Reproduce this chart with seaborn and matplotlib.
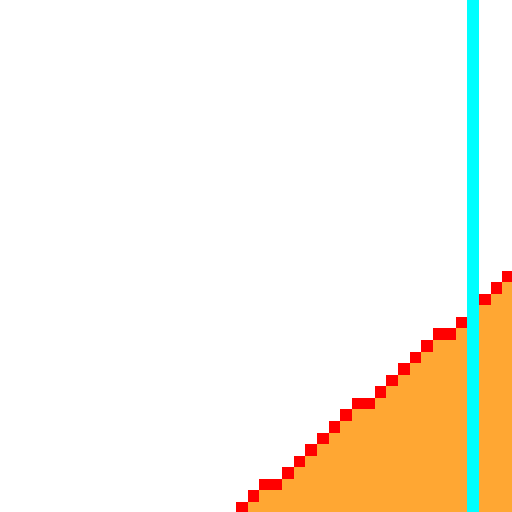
import numpy as np
import pandas as pd
import matplotlib
matplotlib.use('Agg')
import matplotlib.pyplot as plt
from matplotlib.colors import ListedColormap
import seaborn as sns

# Pixel grid data (column index -> row of the red edge pixel, counted from bottom)
line_cols = list(range(0, 24))
line_rows = [0, 1, 2, 2, 3, 4, 5, 6, 7, 8, 9, 9, 10, 11, 12, 13, 14, 15, 15, 16, 17, 18, 19, 20]
marker_col = 20

col_ids = list(range(-21, 24))
row_ids = list(range(44, -1, -1))  # top row first

# Build the cell table: 0 white, 1 fill, 2 edge, 3 marker
edge = dict(zip(line_cols, line_rows))
grid = pd.DataFrame(0, index=row_ids, columns=col_ids)
for c in col_ids:
    if c in edge:
        for r in row_ids:
            if r < edge[c]:
                grid.loc[r, c] = 1
            elif r == edge[c]:
                grid.loc[r, c] = 2
grid[marker_col] = 3

cmap = ListedColormap(['#ffffff', '#ffa733', '#ff0000', '#00ffff'])

sns.set_style('white')
fig = plt.figure(figsize=(5.12, 5.12), dpi=100)
ax = fig.add_axes([0, 0, 1, 1])
sns.heatmap(grid, cmap=cmap, vmin=-0.5, vmax=3.5, cbar=False,
            xticklabels=False, yticklabels=False, ax=ax)
ax.set_xlim(0.60, 44.85)
ax.set_ylim(44.864, 0.61)
ax.axis('off')

plt.savefig('out.png', dpi=100)
plt.close()
